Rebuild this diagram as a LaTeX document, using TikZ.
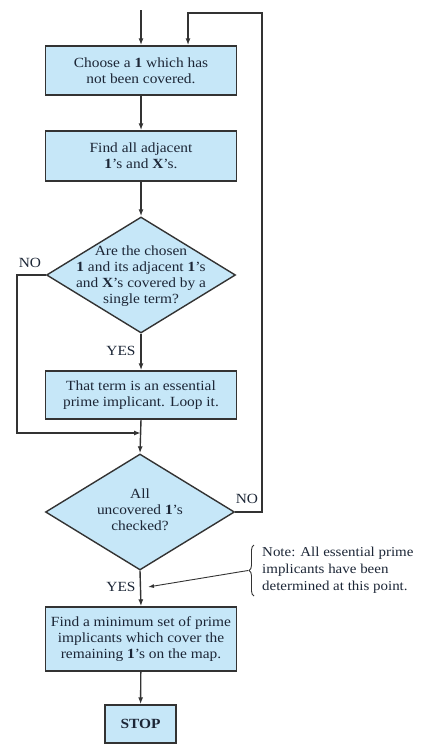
\documentclass[tikz,border=0pt]{standalone}
\usepackage{fontspec}
\setmainfont{Liberation Serif}[FakeStretch=1.1]
\usetikzlibrary{shapes.geometric,arrows.meta,decorations.pathreplacing}
\definecolor{boxfill}{HTML}{C6E7F8}
\definecolor{edge}{HTML}{333333}
\definecolor{ink}{HTML}{1C2636}
\begin{document}
\begin{tikzpicture}[x=1pt,y=-1pt,
  every node/.style={font=\fontsize{14}{16}\selectfont, text=ink},
  stepbox/.style={draw=edge, line width=1.4pt, fill=boxfill, minimum width=191pt,
    inner sep=0pt, align=center},
  decision/.style={draw=edge, line width=1.4pt, fill=boxfill, diamond,
    minimum width=189pt, minimum height=116pt, inner sep=0pt},
  dtext/.style={align=center, inner sep=0pt},
  flow/.style={draw=edge, line width=1.4pt, -{Latex[length=7pt,width=5pt]}},
  tag/.style={inner sep=0pt},
]
\useasboundingbox (0,0) rectangle (421,745);

% process steps
\node[stepbox, minimum height=49pt] (b1) at (141,70.5)
  {Choose a \textbf{1} which has\\not been covered.};
\node[stepbox, minimum height=50pt] (b2) at (141,156)
  {Find all adjacent\\\textbf{1}'s and \textbf{X}'s.};
\node[decision] (d1) at (141,275) {};
\node[dtext] (d1t) at (141,276)
  {Are the chosen\\\textbf{1} and its adjacent \textbf{1}'s\\and \textbf{X}'s covered by a\\single term?};
\node[stepbox, minimum height=48pt] (b3) at (141,395)
  {That term is an essential\\prime implicant. Loop it.};
\node[decision] (d2) at (140,512) {};
\node[dtext] (d2t) at (140,510)
  {All\\uncovered \textbf{1}'s\\checked?};
\node[stepbox, minimum height=64pt] (b4) at (141,639)
  {Find a minimum set of prime\\implicants which cover the\\remaining \textbf{1}'s on the map.};
\node[stepbox, minimum width=71pt, minimum height=38pt] (stop) at (140.5,724)
  {\textbf{STOP}};

% branch labels
\node[tag] (no1) at (30,263) {NO};
\node[tag] (yes1) at (121,351) {YES};
\node[tag] (no2) at (247,499) {NO};
\node[tag] (yes2) at (121,587) {YES};

% connectors
\coordinate (start) at (141,10);
\coordinate (lt) at (17,433);
\coordinate (rt) at (262,13);
\draw[flow] (start) -- (b1.north);
\draw[flow] (b1) -- (b2);
\draw[flow] (b2) -- (d1.north);
\draw[flow] (d1.south) -- (b3.north);
\draw[flow] (b3.south) -- (d2.north);
\draw[flow] (d2.south) -- (b4.north);
\draw[flow] (b4) -- (stop);
\draw[flow] (d1.west) -| (lt) -- (lt -| b3.south);
\draw[flow] (d2.east) -| (rt) -| ([xshift=47pt]b1.north);

% side note
\node[tag, align=left, anchor=west, font=\fontsize{13.6}{16}\selectfont] (note) at (262,570)
  {Note: All essential prime\\[1pt]implicants have been\\[1pt]determined at this point.};
\draw[draw=edge, line width=0.9pt, decorate, decoration={brace, amplitude=5pt}]
  (254,596) -- (254,545);
\coordinate (bt) at (248,570.5);
\coordinate (yp) at (148,587);
\draw[draw=edge, line width=0.9pt, -{Latex[length=6pt,width=4pt]}] (bt) -- (yp);
\end{tikzpicture}
\end{document}
